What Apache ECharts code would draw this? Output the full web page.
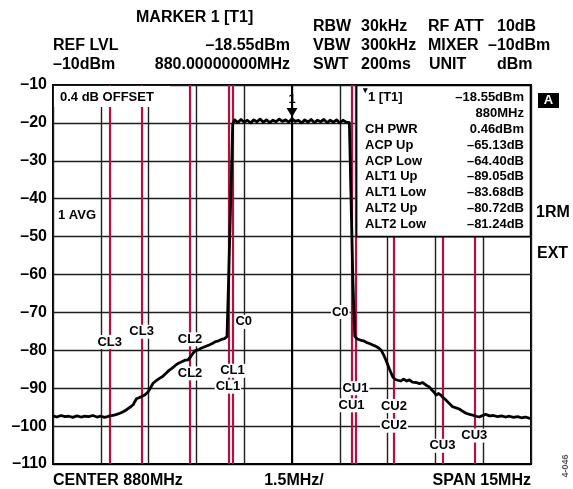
<!DOCTYPE html>
<html><head><meta charset="utf-8">
<script src="https://cdn.jsdelivr.net/npm/echarts/dist/echarts.min.js"></script>
<style>html,body{margin:0;padding:0;background:#fff}#c{width:573px;height:489px}</style>
</head><body><div id="c"></div>
<script>
// ---- data ----
const freqOffsetMHz = [
 -7.5,-7.38,-7.25,-7.12,-7.0,-6.88,-6.75,-6.62,-6.5,-6.38,-6.25,-6.12,-6.0,-5.88,-5.75,-5.62,-5.5,-5.4,-5.3,-5.18,
 -5.06,-4.98,-4.93,-4.88,-4.8,-4.72,-4.62,-4.52,-4.44,-4.36,-4.26,-4.16,-4.06,-3.96,-3.86,-3.76,-3.66,-3.56,-3.46,-3.36,
 -3.26,-3.18,-3.1,-3.02,-2.92,-2.82,-2.72,-2.6,-2.5,-2.4,-2.3,-2.2,-2.12,-2.04,-1.99,-1.86,
 -1.8,-1.7,-1.6,-1.5,-1.4,-1.3,-1.2,-1.1,-1.0,-0.9,-0.8,-0.7,-0.6,-0.5,-0.4,-0.3,-0.2,-0.1,0,
 0.1,0.2,0.3,0.4,0.5,0.6,0.7,0.8,0.9,1.0,1.1,1.2,1.3,1.4,1.5,1.6,1.7,1.8,
 1.91,1.97,2.05,2.14,2.24,2.33,2.43,2.53,2.62,2.72,2.8,2.88,2.95,3.05,3.16,3.24,3.32,3.42,3.5,3.6,
 3.68,3.78,3.9,4.0,4.1,4.21,4.3,4.36,4.45,4.52,4.6,4.68,4.75,4.83,4.93,5.04,5.15,5.25,5.36,5.46,
 5.57,5.67,5.78,5.88,5.98,6.08,6.2,6.32,6.45,6.58,6.7,6.82,6.95,7.08,7.2,7.32,7.44,7.5
];
const levelDbm = [
 -97.3,-97.6,-97.2,-97.5,-97.4,-97.7,-97.3,-97.6,-97.4,-97.5,-97.2,-97.6,-97.4,-97.7,-97.4,-97.2,-96.9,-96.6,-96.2,-95.6,
 -94.9,-94.3,-93.5,-92.8,-92.5,-92.2,-91.8,-91.0,-89.9,-88.7,-88.0,-87.4,-86.9,-86.1,-85.3,-84.7,-84.0,-83.4,-83.0,-82.6,
 -82.5,-81.7,-80.7,-80.0,-79.8,-79.3,-79.0,-78.6,-78.2,-77.7,-77.5,-77.1,-76.9,-76.4,-61.5,-20.3,
 -19.2,-19.9,-19.1,-19.8,-19.3,-20.0,-19.2,-19.7,-19.0,-19.8,-19.2,-19.9,-19.3,-19.7,-19.0,-19.6,-19.2,-19.8,-18.9,
 -19.6,-19.3,-20.0,-19.2,-19.8,-19.1,-19.9,-19.3,-19.7,-19.1,-19.9,-19.3,-19.8,-19.2,-20.0,-19.3,-19.8,-19.9,
 -61.5,-76.3,-77.0,-77.3,-77.5,-77.9,-78.2,-78.6,-78.9,-79.4,-80.0,-81.3,-82.6,-84.8,-87.0,-87.7,-87.9,-88.1,-87.6,-88.1,
 -87.8,-88.4,-88.5,-88.8,-88.5,-89.2,-89.6,-90.2,-91.0,-91.8,-91.4,-91.9,-92.5,-93.1,-94.0,-94.9,-95.2,-95.5,-96.1,-96.6,
 -96.9,-97.1,-97.4,-97.6,-97.2,-96.9,-97.3,-97.2,-97.5,-97.3,-97.6,-97.4,-97.7,-97.5,-97.8,-97.6,-97.9,-98.0
];
const channelEdgesMHz = [-5.72, -4.72, -3.2, -1.99, -1.87, 1.87, 1.99, 3.2, 4.72, 5.72];
const channelLabels = ['CL3','CL3','CL2','CL2','C0','CL1','CL1','C0','CU1','CU1','CU2','CU2','CU3','CU3'];
const yTickValues = [-110,-100,-90,-80,-70,-60,-50,-40,-30,-20,-10];
const markerFreqMHz = 0;
const markerLevelDbm = -18.55;
const infoNames = ['CH PWR','ACP Up','ACP Low','ALT1 Up','ALT1 Low','ALT2 Up','ALT2 Low'];
const infoValues = ['0.46dBm','\u201365.13dB','\u201364.40dB','\u201389.05dB','\u201383.68dB','\u201380.72dB','\u201381.24dB'];

// ---- chart ----
const FONT = '"Liberation Sans", Arial, Helvetica, sans-serif';
const RED = '#b3103f';
const GRIDC = '#1e1e1e';
const chart = echarts.init(document.getElementById('c'), null, {renderer:'canvas'});
const trace = freqOffsetMHz.map((f,i)=>[f, levelDbm[i]]);

chart.setOption({
  animation:false,
  backgroundColor:'#fff',
  grid:{left:53, top:85, right:42, bottom:25, show:true, borderColor:'#000', borderWidth:2, backgroundColor:'transparent'},
  xAxis:{type:'value', min:-7.5, max:7.5, interval:1.5,
    axisLabel:{show:false}, axisTick:{show:false},
    axisLine:{show:true, lineStyle:{color:'#000', width:2}},
    splitLine:{show:true, lineStyle:{color:GRIDC, width:1.4}}},
  yAxis:{type:'value', min:yTickValues[0], max:yTickValues[yTickValues.length-1], interval:10,
    axisLabel:{formatter:v=>'\u2013'+Math.abs(v), fontSize:16, fontWeight:'bold', color:'#000', fontFamily:FONT, margin:6},
    axisTick:{show:false},
    axisLine:{show:true, lineStyle:{color:'#000', width:2}},
    splitLine:{show:true, lineStyle:{color:GRIDC, width:1.4}}},
  series:[
    {type:'line', data:[], z:3, silent:true,
     markLine:{silent:true, symbol:['none','none'], animation:false, label:{show:false},
       lineStyle:{color:RED, width:2.2, type:'solid'},
       data:channelEdgesMHz.map(v=>({xAxis:v}))}},
    {type:'line', data:trace, z:5, showSymbol:false, silent:true,
     lineStyle:{color:'#000', width:2.8, join:'round'},
     markPoint:{silent:true, animation:false,
       data:[{coord:[markerFreqMHz, markerLevelDbm]}],
       symbol:'triangle', symbolRotate:180, symbolSize:[11,9], symbolOffset:[0,-5],
       itemStyle:{color:'#000'},
       label:{show:true, position:'top', formatter:'1', color:'#000', fontWeight:'bold', fontSize:13, fontFamily:FONT, distance:2}}}
  ]
});

function px(f, db){ return chart.convertToPixel({gridIndex:0}, [f, db]); }
function txt(text, x, y, opts){
  opts = opts || {};
  const st = {text:text, x:0, y:0, fill:opts.fill||'#000',
    font:'bold '+(opts.size||16)+'px '+FONT,
    align:opts.align||'left', textAlign:opts.align||'left',
    verticalAlign:'middle', textVerticalAlign:'middle'};
  if (opts.bg){ st.backgroundColor = opts.bg; st.padding = opts.pad || [1,2,0,2]; }
  const el = {type:'text', x:x, y:y, z:120, silent:true, style:st};
  if (opts.rot) el.rotation = opts.rot;
  return el;
}

const g = [];
// header
g.push(txt('MARKER 1 [T1]', 136, 18));
g.push(txt('RBW', 313, 27)); g.push(txt('30kHz', 361, 27)); g.push(txt('RF ATT', 428, 27)); g.push(txt('10dB', 497, 27));
g.push(txt('REF LVL', 53, 46)); g.push(txt('\u201318.55dBm', 290, 46, {align:'right'}));
g.push(txt('VBW', 313, 46)); g.push(txt('300kHz', 361, 46)); g.push(txt('MIXER', 428, 46)); g.push(txt('\u201310dBm', 488, 46));
g.push(txt('\u201310dBm', 53, 65)); g.push(txt('880.00000000MHz', 290, 65, {align:'right'}));
g.push(txt('SWT', 313, 65)); g.push(txt('200ms', 361, 65)); g.push(txt('UNIT', 429, 65)); g.push(txt('dBm', 497, 65));
// bottom
const pL = px(-7.5,-110), pR = px(7.5,-110), pC = px(0,-110);
g.push(txt('CENTER 880MHz', pL[0], 481));
g.push(txt('1.5MHz/', pC[0]+2, 481, {align:'center'}));
g.push(txt('SPAN 15MHz', pR[0], 481, {align:'right'}));
// offset box (covers grid top-left)
const t0 = px(-7.5,-10);
g.push({type:'rect', z:100, silent:true, shape:{x:t0[0]+1, y:t0[1]+1, width:116, height:21}, style:{fill:'#fff'}});
g.push(txt('0.4 dB OFFSET', 60, 97, {size:13}));
g.push(txt('1 AVG', 58, 215, {size:13}));
// info box
const b1 = px(channelEdgesMHz[6], -10), b2 = px(7.5, -50);
g.push({type:'rect', z:100, silent:true, shape:{x:b1[0]+1.2, y:b1[1]+0.5, width:b2[0]-b1[0]-1.7, height:b2[1]-b1[1]-0.5},
  style:{fill:'#fff', stroke:'#000', lineWidth:1.6}});
g.push(txt('\u25BE', 363, 91, {size:9}));
g.push(txt('1 [T1]', 368, 97, {size:13}));
g.push(txt('\u201318.55dBm', 524, 97, {size:13, align:'right'}));
g.push(txt('880MHz', 524, 113, {size:13, align:'right'}));
infoNames.forEach((n,i)=>{
  const y = 129.3 + i*15.85;
  g.push(txt(n, 365, y, {size:13}));
  g.push(txt(infoValues[i], 524, y, {size:13, align:'right'}));
});
// right side
g.push({type:'rect', z:100, silent:true, shape:{x:538, y:93, width:21, height:15}, style:{fill:'#000'}});
g.push(txt('A', 548.5, 100.5, {size:13, align:'center', fill:'#fff'}));
g.push(txt('1RM', 536, 213));
g.push(txt('EXT', 537, 254));
g.push(txt('4-046', 566, 466, {size:9, align:'center', fill:'#555', rot:Math.PI/2}));
// channel labels (data coords: freq, level)
const labelPos = [
  [-5.72,-77.8,'center'], [-4.72,-75.1,'center'], [-3.2,-77.1,'center'], [-3.2,-86.1,'center'],
  [-1.87,-72.5,'leftOf'], [-1.87,-85.4,'center'], [-2.01,-89.6,'center'],
  [1.87,-69.9,'rightOf'], [1.99,-90.0,'center'], [1.87,-94.5,'center'],
  [3.2,-94.7,'center'], [3.2,-99.9,'center'], [4.72,-105.2,'center'], [5.72,-102.5,'center']
];
channelLabels.forEach((t,i)=>{
  const p = px(labelPos[i][0], labelPos[i][1]);
  const mode = labelPos[i][2];
  let x = p[0], align = 'center';
  if (mode==='leftOf'){ x = p[0]+2; align='left'; }
  if (mode==='rightOf'){ x = p[0]-2; align='right'; }
  g.push(txt(t, x, p[1], {size:13, align:align, bg:'#fff', pad:[1,1,0,1]}));
});
chart.setOption({graphic:{elements:g}});
</script>
</body></html>
